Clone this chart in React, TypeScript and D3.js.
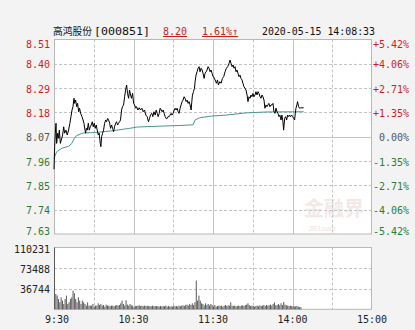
import React from 'react';
import * as d3 from 'd3';

const stockName = '高鸿股份';
const stockCode = '[000851]';
const lastPrice = '8.20';
const changePct = '1.61%↑';
const timestamp = '2020-05-15 14:08:33';

const priceTicks = [8.51, 8.4, 8.29, 8.18, 8.07, 7.96, 7.85, 7.74, 7.63];
const priceTickLabels = ['8.51', '8.40', '8.29', '8.18', '8.07', '7.96', '7.85', '7.74', '7.63'];
const pctTickLabels = ['+5.42%', '+4.06%', '+2.71%', '+1.35%', '0.00%', '-1.35%', '-2.71%', '-4.06%', '-5.42%'];
const volTicks = [110231, 73488, 36744];
const timeLabels = [' 9:30', '10:30', '11:30', '14:00', '15:00'];
const timeLabelMinutes = [0, 60, 120, 180, 240];
const gridMinutes = [30, 60, 90, 120, 150, 180, 210];
const solidGridMinutes = [60, 120, 180];

// minutes of trading time since 9:30 (11:30 == 13:00 == 120)
const priceTimes = [
  0, 0.5, 1, 1.5, 2, 2.8, 3.5, 4, 4.8, 5.5, 6.5, 7.3, 8, 9, 10, 11, 12, 12.8, 13.6, 14.3,
  15.1, 15.6, 16.3, 17.1, 17.8, 18.6, 19.3, 20.1, 21.1, 21.9, 22.6, 23.4, 23.9, 24.4, 25.1, 25.9,
  26.6, 27.4, 28.1, 28.9, 29.6, 30.4, 31.1, 31.9, 32.6, 33.4, 34.1, 34.9, 35.4, 35.9, 36.7, 37.4,
  38.2, 39, 39.7, 40.5, 41.2, 42, 42.7, 43.5, 44.2, 45, 45.7, 46.5, 47.2, 48, 48.7, 49.5, 50.2,
  51, 51.7, 52.5, 53.3, 54, 54.8, 55.5, 56.3, 57, 57.8, 58.5, 59.3, 60.1, 60.8, 61.8,
  62.3, 63.3, 64.3, 65.3, 66.3, 67.3, 68.3, 69.3, 70.3, 71.3, 72.1, 72.8, 73.8, 74.6, 75.4, 76.4,
  77.1, 77.9, 78.6, 79.4, 80.1, 80.9, 81.6, 82.4, 83.1, 83.9, 84.6, 85.4, 86.1, 86.9, 87.6, 88.4,
  89.1, 89.9, 90.7, 91.4, 92.2, 92.9, 93.7, 94.4, 95.2, 95.9, 96.7, 97.4, 98.2, 98.9, 99.7, 100.5,
  101.2, 102, 102.7, 103.5, 104, 104.5, 105.3, 106, 106.5, 107.2, 108, 108.7, 109.5, 110.2, 111,
  111.8, 112.5, 113.3, 114, 114.8, 115.5, 116.3, 117, 117.8, 118.5, 119.3, 120,
  120.3, 121.6, 122.6, 123.4, 124.1, 125.1, 126.1, 127.1, 128.1, 129.1, 130.1, 131.1, 132.1, 132.9,
  133.6, 134.4, 135.1, 135.9, 136.6, 137.4, 138.1, 138.9, 139.6, 140.4, 141.1, 141.9, 142.6, 143.4,
  144.2, 144.9, 145.7, 146.4, 147.2, 147.9, 148.7, 149.4, 150.2, 150.9, 151.7, 152.4, 153.2, 154,
  154.7, 155.5, 156.2, 157, 157.7, 158.5, 159.2, 160, 160.7, 161.5, 162.2, 163, 163.8, 164.5, 165.3,
  166, 166.8, 167.5, 168.3, 169, 169.8, 170.5, 171.3, 172, 172.8, 173.3, 174.1, 174.8, 175.6, 176.3,
  177.1, 177.8, 178.6, 179.3, 180.1, 180.9, 181.6, 182.1, 182.6, 183.3, 183.8, 184.6, 185.4, 186.1, 188.4,
];
const prices = [
  7.923, 8.025, 8.086, 8.131, 8.04, 8.086, 8.063, 8.1, 8.04, 8.055, 8.078, 8.115, 8.086, 8.1, 8.078, 8.1, 8.131, 8.161, 8.191, 8.206,
  8.244, 8.221, 8.236, 8.206, 8.221, 8.183, 8.199, 8.176, 8.161, 8.146, 8.131, 8.1, 8.086, 8.108, 8.1, 8.131,
  8.1, 8.115, 8.123, 8.138, 8.115, 8.131, 8.108, 8.123, 8.1, 8.078, 8.086, 8.04, 8.025, 8.07, 8.086, 8.1,
  8.131, 8.146, 8.138, 8.153, 8.146, 8.131, 8.108, 8.123, 8.108, 8.093, 8.115, 8.131, 8.138, 8.123, 8.131, 8.138, 8.146,
  8.191, 8.206, 8.214, 8.251, 8.281, 8.304, 8.266, 8.244, 8.281, 8.259, 8.244, 8.266, 8.221, 8.214, 8.199,
  8.206, 8.191, 8.201, 8.191, 8.199, 8.183, 8.191, 8.168, 8.161, 8.138, 8.153, 8.168, 8.176, 8.161, 8.183, 8.168,
  8.191, 8.176, 8.161, 8.176, 8.199, 8.191, 8.183, 8.191, 8.176, 8.161, 8.153, 8.153, 8.161, 8.161, 8.168, 8.176,
  8.168, 8.176, 8.191, 8.199, 8.191, 8.199, 8.183, 8.176, 8.199, 8.214, 8.229, 8.236, 8.251, 8.244, 8.229, 8.236,
  8.221, 8.229, 8.214, 8.191, 8.229, 8.259, 8.274, 8.289, 8.319, 8.349, 8.364, 8.38, 8.387, 8.364, 8.38,
  8.372, 8.357, 8.334, 8.357, 8.364, 8.372, 8.387, 8.38, 8.364, 8.372, 8.357, 8.342,
  8.342, 8.327, 8.312, 8.327, 8.304, 8.319, 8.312, 8.334, 8.342, 8.364, 8.38, 8.387, 8.402, 8.417,
  8.402, 8.387, 8.395, 8.38, 8.387, 8.364, 8.372, 8.357, 8.342, 8.349, 8.334, 8.327, 8.312, 8.296,
  8.289, 8.281, 8.259, 8.229, 8.251, 8.244, 8.259, 8.251, 8.266, 8.251, 8.259, 8.274, 8.259, 8.274,
  8.266, 8.251, 8.244, 8.259, 8.251, 8.236, 8.199, 8.214, 8.206, 8.214, 8.221, 8.206, 8.214, 8.214, 8.221,
  8.183, 8.176, 8.199, 8.183, 8.176, 8.161, 8.168, 8.146, 8.168, 8.138, 8.1, 8.153, 8.161, 8.146, 8.168,
  8.161, 8.168, 8.161, 8.168, 8.161, 8.153, 8.146, 8.176, 8.199, 8.214, 8.229, 8.206, 8.199, 8.201, 8.201,
];

const avgTimes = [0, 2, 6, 11, 13.5, 15, 17, 22, 31, 44, 57, 63, 80, 95, 105, 106.5, 110, 118, 130, 145, 160, 188.4];
const avgPrices = [7.972, 8.002, 8.018, 8.027, 8.04, 8.06, 8.075, 8.087, 8.089, 8.097, 8.108, 8.114, 8.118, 8.121, 8.124, 8.146, 8.156, 8.163, 8.168, 8.178, 8.182, 8.183];

// one bar per minute from 9:30
const volumes = [
  110231, 27300, 24500, 18400, 12500, 21400, 15500, 9500, 18400, 24500, 9500, 12500, 18400, 21400, 33400, 28600,
  18400, 12500, 21400, 15500, 9500, 15500, 12500, 9500, 6600, 12500, 6600, 6600, 6600, 9500, 4800, 6600,
  6600, 10700, 7700, 9500, 6600, 7700, 4800, 8400, 6600, 6600, 5400, 6600, 6600, 5400, 6600, 7700,
  6600, 7700, 10700, 15500, 9500, 6600, 16100, 8400, 6600, 9500, 7100, 6600, 3600, 5900, 5900, 6600,
  7100, 5900, 6600, 5400, 6600, 5900, 6600, 5400, 5900, 5400, 6600, 5400, 5900, 5400, 5900, 4800,
  5900, 4800, 5900, 5400, 6600, 4800, 5900, 4800, 5400, 4800, 6600, 5400, 5900, 4800, 6600, 5400,
  6600, 7100, 5900, 7700, 8400, 6600, 9500, 7700, 10700, 7700, 12500, 51300, 15500, 24500, 15500, 10700,
  9500, 6600, 10700, 7700, 9500, 6600, 9500, 7700, 4800, 7700, 4800, 5900, 6600, 5900, 6600, 4800,
  6600, 7700, 5900, 7100, 6600, 12500, 6600, 5900, 6600, 5400, 5900, 6600, 5900, 6600, 7100, 5900,
  7700, 8400, 10700, 7700, 5900, 6600, 5900, 4800, 5900, 6600, 5400, 7100, 5900, 6600, 7700, 5900,
  7700, 6600, 7100, 8400, 6600, 9500, 12000, 7100, 7700, 9500, 7100, 10700, 7700, 13000, 8400, 7100,
  6600, 5900, 6600, 5400, 5900, 4800, 5400, 5900, 4800, 4100, 3600,
];

const W = 415;
const H = 330;
const X0 = 54;
const X1 = 372;
const PT = 39.5;
const PB = 234;
const VT = 247.5;
const VB = 309.3;

const RED = '#cc1f1f';
const GREEN = '#2f7d32';
const GRAY = '#555555';
const GRID = '#c4c4c4';
const MONO = '"DejaVu Sans Mono", "Liberation Mono", monospace';
const CJK = '"Noto Sans CJK SC", "Noto Sans", sans-serif';

export default function App() {
  const x = d3.scaleLinear().domain([0, 240]).range([X0, X1]);
  const y = d3.scaleLinear().domain([7.63, 8.51]).range([PB, PT]);
  const yv = d3.scaleLinear().domain([0, 110231]).range([VB, VT]);

  const priceLine = d3
    .line<number>()
    .x((_, i) => x(priceTimes[i]))
    .y((d) => y(d))(prices) as string;
  const avgLine = d3
    .line<number>()
    .x((_, i) => x(avgTimes[i]))
    .y((d) => y(d))(avgPrices) as string;

  const colorFor = (i: number) => (i < 4 ? RED : i === 4 ? GRAY : GREEN);
  const labelY = (v: number) => Math.min(Math.max(y(v) + 4.5, 47.5), 234.5);

  return (
    <svg
      width={W}
      height={H}
      style={{ position: 'absolute', left: 0, top: 0, display: 'block', background: '#f3f3f3' }}
    >
      <rect x={0} y={0} width={W} height={H} fill="#f3f3f3" />
      {/* header */}
      <text x={53} y={35} fontFamily={CJK} fontSize={10.5} fill="#111" textLength={39} lengthAdjust="spacingAndGlyphs">
        {stockName}
      </text>
      <text x={94} y={35} fontFamily={MONO} fontSize={11} fill="#111" textLength={56} lengthAdjust="spacingAndGlyphs">
        {stockCode}
      </text>
      <text x={163} y={35} fontFamily={MONO} fontSize={10} fill={RED} textDecoration="underline">
        {lastPrice}
      </text>
      <text x={202} y={35} fontFamily={MONO} fontSize={10} fill={RED} textDecoration="underline">
        {changePct}
      </text>
      <text x={262} y={35} fontFamily={MONO} fontSize={10} fill="#111" textLength={113} lengthAdjust="spacingAndGlyphs">
        {timestamp}
      </text>

      {/* price panel */}
      <rect x={X0} y={PT} width={X1 - X0} height={PB - PT} fill="#ffffff" />
      {/* watermark */}
      <text x={334} y={216} textAnchor="middle" fontFamily={CJK} fontSize={20} fontWeight="bold" fill="#f3e8e8">
        金融界
      </text>
      <text x={322} y={231} textAnchor="middle" fontFamily="Arial, sans-serif" fontSize={6.5} fontWeight="bold" fill="#f3e8e8">
        JRJ.com
      </text>
      {priceTicks.slice(1, -1).map((v, i) => (
        <line
          key={'hg' + i}
          x1={X0}
          x2={X1}
          y1={Math.round(y(v)) + 0.5}
          y2={Math.round(y(v)) + 0.5}
          stroke={GRID}
          strokeDasharray={v === 8.07 ? undefined : '3,2'}
        />
      ))}
      {gridMinutes.map((m) => (
        <line
          key={'vg' + m}
          x1={Math.round(x(m)) + 0.5}
          x2={Math.round(x(m)) + 0.5}
          y1={PT}
          y2={PB}
          stroke={GRID}
          strokeDasharray={solidGridMinutes.includes(m) ? undefined : '3,2'}
        />
      ))}
      <rect x={X0 + 0.5} y={PT} width={X1 - X0 - 1} height={PB - PT} fill="none" stroke="#b8b8b8" />
      <path d={avgLine} fill="none" stroke="#4a968f" strokeWidth={1} />
      <path d={priceLine} fill="none" stroke="#000" strokeWidth={1} />

      {priceTicks.map((v, i) => (
        <text key={'pl' + i} x={50} y={labelY(v)} textAnchor="end" fontFamily={MONO} fontSize={10} fill={colorFor(i)}>
          {priceTickLabels[i]}
        </text>
      ))}
      {priceTicks.map((v, i) => (
        <text key={'pr' + i} x={409} y={labelY(v)} textAnchor="end" fontFamily={MONO} fontSize={10} fill={colorFor(i)}>
          {pctTickLabels[i]}
        </text>
      ))}

      {/* volume panel */}
      <rect x={X0} y={VT} width={X1 - X0} height={VB - VT} fill="#ffffff" />
      {volTicks.slice(1).map((v, i) => (
        <line
          key={'vh' + i}
          x1={X0}
          x2={X1}
          y1={Math.round(yv(v)) + 0.5}
          y2={Math.round(yv(v)) + 0.5}
          stroke={GRID}
          strokeDasharray="3,2"
        />
      ))}
      {gridMinutes.map((m) => (
        <line
          key={'vv' + m}
          x1={Math.round(x(m)) + 0.5}
          x2={Math.round(x(m)) + 0.5}
          y1={VT}
          y2={VB}
          stroke={GRID}
          strokeDasharray={solidGridMinutes.includes(m) ? undefined : '3,2'}
        />
      ))}
      <rect x={X0 + 0.5} y={VT} width={X1 - X0 - 1} height={VB - VT} fill="none" stroke="#b8b8b8" />
      {volumes.map((v, i) => (
        <rect key={'b' + i} x={x(i)} y={yv(v)} width={1} height={VB - yv(v)} fill="#5a5a5a" />
      ))}
      {volTicks.map((v, i) => (
        <text
          key={'vl' + i}
          x={50}
          y={i === 0 ? 252.5 : yv(v) + 4.5}
          textAnchor="end"
          fontFamily={MONO}
          fontSize={10}
          fill="#222"
        >
          {v}
        </text>
      ))}

      {/* time axis */}
      {timeLabels.map((t, i) => (
        <text
          key={'t' + i}
          x={x(timeLabelMinutes[i])}
          y={323}
          textAnchor="middle"
          fontFamily={MONO}
          fontSize={10}
          fill="#222"
          style={{ whiteSpace: 'pre' }}
        >
          {t}
        </text>
      ))}
    </svg>
  );
}
